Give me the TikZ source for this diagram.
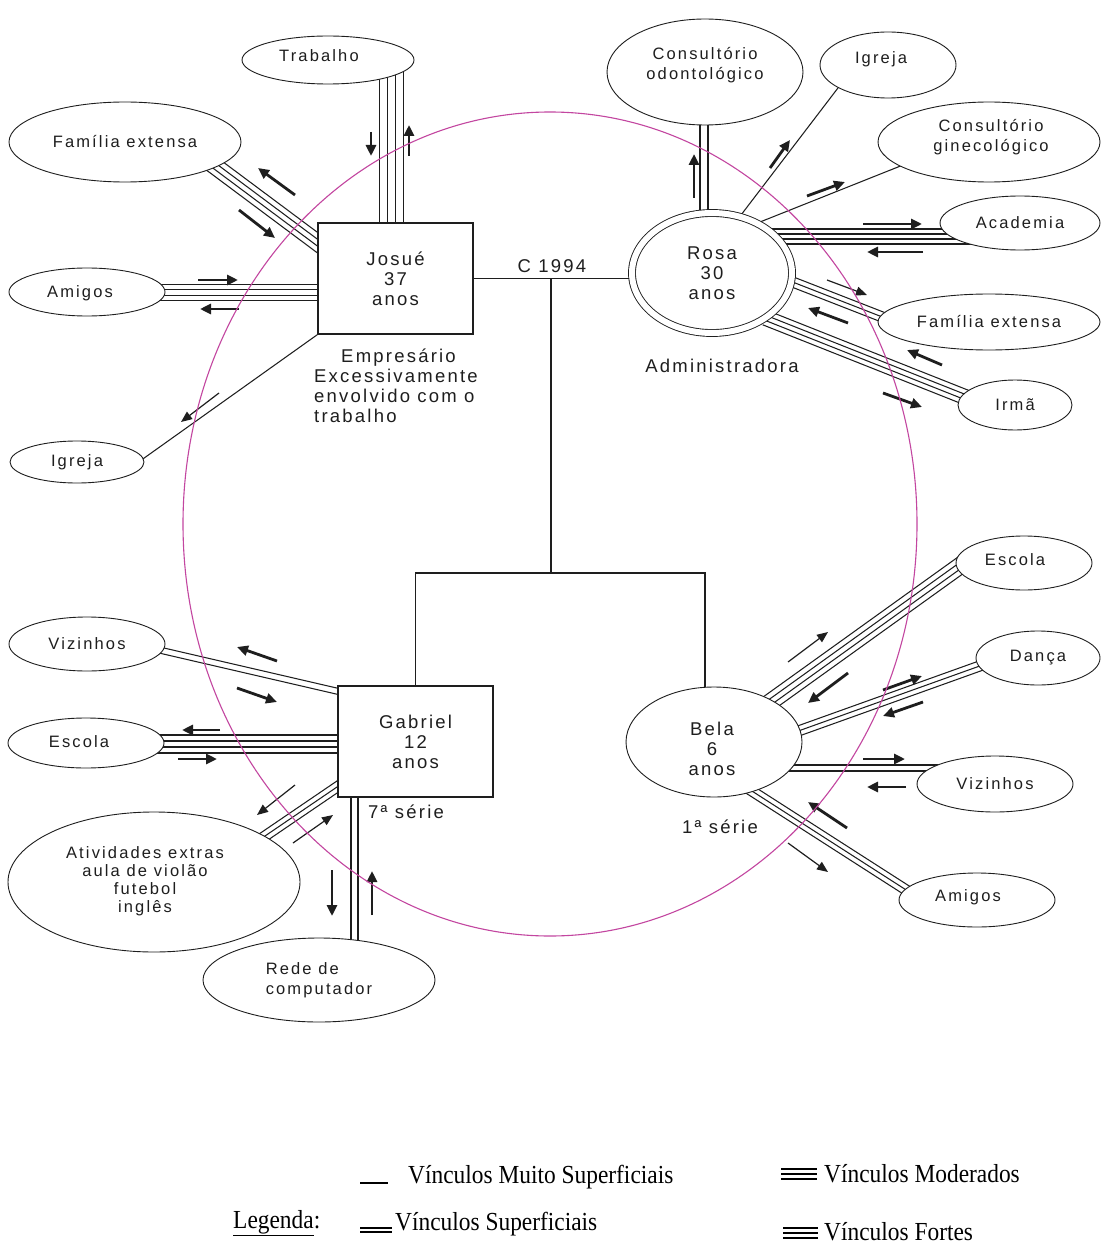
\documentclass[tikz,border=0pt]{standalone}
\usepackage{fontspec}
\setmainfont{Liberation Sans}
\newfontfamily\nmfont[LetterSpace=12]{Liberation Sans}
\newfontfamily\ovfont[LetterSpace=13]{Liberation Sans}
\newfontfamily\legfont[FakeStretch=0.9]{Liberation Serif}
\usetikzlibrary{shapes.geometric,arrows.meta,calc}
\pgfdeclarelayer{bg}
\pgfsetlayers{bg,main}
\definecolor{pinkline}{RGB}{195,70,160}
\definecolor{ink}{RGB}{30,30,30}
% n parallel lines, spacing, from coordinate, to coordinate
\newcommand\linebundle[4]{%
  \foreach \k in {1,...,#1}{%
    \pgfmathsetmacro\bdoff{(\k-(#1+1)/2)*#2}%
    \draw[one] ($(#3)!\bdoff pt!90:(#4)$) -- ($(#4)!\bdoff pt!-90:(#3)$);
  }}
\begin{document}
\begin{tikzpicture}[x=1pt,y=-1pt,
  namefont/.style={font=\nmfont\fontsize{18.5pt}{20pt}\selectfont, text=ink},
  ovalfont/.style={font=\ovfont\fontsize{16.5pt}{20pt}\selectfont, text=ink},
  personbox/.style={namefont, draw=ink, line width=1.3pt, fill=white, rectangle,
    minimum width=155pt, minimum height=111pt, inner sep=0pt, align=center},
  oval/.style={ovalfont, draw=ink, line width=0.9pt, fill=white, ellipse,
    inner sep=0pt, align=center},
  ovaltext/.style={ovalfont, inner sep=0pt, align=center},
  lbl/.style={namefont, inner sep=0pt},
  one/.style={draw=ink, line width=1.05pt},
  arr/.style={draw=ink, line width=2.8pt, -{Triangle[length=11pt,width=10pt]}},
  arrthin/.style={draw=ink, line width=1.2pt, -{Triangle[length=11pt,width=9pt]}},
  legstyle/.style={font=\legfont\fontsize{26pt}{28pt}\selectfont, text=black, inner sep=0pt, anchor=base west},
  legline/.style={draw=black, line width=1.2pt}
]
\useasboundingbox (0,0) rectangle (1101,1249);
\begin{pgfonlayer}{bg}
  \fill[white] (0,0) rectangle (1101,1249);
\end{pgfonlayer}

% ---------- persons ----------
\node[personbox] (josue) at (395.5,278.5) {Josué\\37\\anos};
\node[personbox] (gabriel) at (415.5,741.5) {Gabriel\\12\\anos};
\node[oval, namefont, double=white, double distance=6pt, minimum width=160pt, minimum height=120pt] (rosa) at (712,273) {Rosa\\30\\anos};
\node[oval, minimum width=176pt, minimum height=110pt] (bela) at (714,742) {};
\node[lbl, align=center] (belaT) at (712,749) {Bela\\6\\anos};

% ---------- contexts ----------
\node[oval, minimum width=172pt, minimum height=48pt] (trab) at (328,60) {};
\node[ovaltext] (trabT) at (319,56) {Trabalho};
\node[oval, minimum width=232pt, minimum height=80pt] (famL) at (125,142) {Família extensa};
\node[oval, minimum width=156pt, minimum height=48pt] (amigL) at (87,292) {};
\node[ovaltext] (amigLT) at (80,293) {Amigos};
\node[oval, minimum width=134pt, minimum height=42pt] (igrL) at (77,462) {Igreja};
\node[oval, minimum width=196pt, minimum height=106pt] (odonto) at (705,72) {};
\node[ovaltext] (odontoT) at (705,65) {Consultório\\odontológico};
\node[oval, minimum width=136pt, minimum height=66pt] (igrR) at (888,65) {};
\node[ovaltext] (igrRT) at (881,59) {Igreja};
\node[oval, minimum width=222pt, minimum height=80pt] (gine) at (989,142) {};
\node[ovaltext] (gineT) at (991,137) {Consultório\\ginecológico};
\node[oval, minimum width=160pt, minimum height=54pt] (acad) at (1020,223) {Academia};
\node[oval, minimum width=222pt, minimum height=56pt] (famR) at (989,322) {Família extensa};
\node[oval, minimum width=114pt, minimum height=50pt] (irma) at (1015,405) {Irmã};
\node[oval, minimum width=136pt, minimum height=54pt] (escR) at (1024,563) {};
\node[ovaltext] (escRT) at (1015,560) {Escola};
\node[oval, minimum width=124pt, minimum height=54pt] (danca) at (1038,658) {Dança};
\node[oval, minimum width=156pt, minimum height=56pt] (vizR) at (995,784) {Vizinhos};
\node[oval, minimum width=156pt, minimum height=54pt] (amigR) at (977,900) {};
\node[ovaltext] (amigRT) at (968,897) {Amigos};
\node[oval, minimum width=156pt, minimum height=54pt] (vizL) at (87,644) {Vizinhos};
\node[oval, minimum width=156pt, minimum height=50pt] (escL) at (86,743) {};
\node[ovaltext] (escLT) at (79,742) {Escola};
\node[oval, minimum width=292pt, minimum height=140pt] (ativ) at (154,882) {};
\node[ovaltext, font=\ovfont\fontsize{16.5pt}{18pt}\selectfont] (ativT) at (145,881) {Atividades extras\\aula de violão\\futebol\\inglês};
\node[oval, align=left, minimum width=232pt, minimum height=84pt] (rede) at (319,980) {Rede de\\computador};

% ---------- labels ----------
\node[lbl] (casam) at (552,266) {C 1994};
\node[lbl, anchor=north west, align=left] (empr) at (314,349) {\hspace*{27pt}Empresário\\Excessivamente\\envolvido com o\\trabalho};
\node[lbl] (admin) at (722,366) {Administradora};
\node[lbl, anchor=west] (serieG) at (368,812) {7ª série};
\node[lbl] (serieB) at (720,827) {1ª série};

% ---------- bundle end points (inside the nodes, hidden by their fill) ----------
\coordinate (tj1) at ($(trab)+(63.5,4)$);        \coordinate (tj2) at ($(josue)+(-4,-48.5)$);
\coordinate (fj1) at ($(famL)+(83,19)$);         \coordinate (fj2) at ($(josue)+(-65.5,-26.5)$);
\coordinate (aj1) at ($(amigL)+(68,0.5)$);       \coordinate (aj2) at ($(josue)+(-70,14)$);
\coordinate (or1) at ($(odonto)+(-1,46)$);       \coordinate (or2) at ($(rosa)+(-8,-53)$);
\coordinate (ra1) at ($(rosa)+(58,-36.5)$);      \coordinate (ra2) at ($(acad)+(-45,13.5)$);
\coordinate (rf1) at ($(rosa)+(78,8)$);          \coordinate (rf2) at ($(famR)+(-100,-2.4)$);
\coordinate (ri1) at ($(rosa)+(53.4,44.8)$);     \coordinate (ri2) at ($(irma)+(-45.7,-6.3)$);
\coordinate (be1) at ($(bela)+(52.5,-37.3)$);    \coordinate (be2) at ($(escR)+(-56,-3)$);
\coordinate (bd1) at ($(bela)+(77.6,-8.6)$);     \coordinate (bd2) at ($(danca)+(-51.6,5.6)$);
\coordinate (bv1) at ($(bela)+(71,26)$);         \coordinate (bv2) at ($(vizR)+(-50,-16)$);
\coordinate (ba1) at ($(bela)+(34.3,46.7)$);     \coordinate (ba2) at ($(amigR)+(-68.6,-8.6)$);
\coordinate (gv1) at ($(vizL)+(68,5)$);          \coordinate (gv2) at ($(gabriel)+(-70.5,-48.5)$);
\coordinate (ge1) at ($(escL)+(64,1)$);          \coordinate (ge2) at ($(gabriel)+(-70.5,2.5)$);
\coordinate (ga1) at ($(ativ)+(105.7,-42.4)$);   \coordinate (ga2) at ($(gabriel)+(-71.9,41)$);
\coordinate (gr1) at ($(gabriel)+(-61,48.5)$);   \coordinate (gr2) at ($(rede)+(35.5,-30)$);
\coordinate (mar) at (551,278.5);
\coordinate (kids) at (551,573);
\coordinate (kb) at (705,573);

\begin{pgfonlayer}{bg}
  \draw[one] (josue.east) -- (josue.east -| rosa.center);
  \draw[one] (mar) -- (kids);
  \draw[one] (gabriel.north) |- (kb) -- (kb |- bela.center);
  % Josue
  \linebundle{4}{7.7}{tj1}{tj2}
  \linebundle{4}{5.5}{fj1}{fj2}
  \linebundle{4}{5.5}{aj1}{aj2}
  \draw[one] (josue.south west) -- ($(igrL)+(63,-1)$);
  % Rosa
  \linebundle{2}{8}{or1}{or2}
  \draw[one] ($(rosa)+(29,-58)$) -- ($(igrR)+(-47,19)$);
  \draw[one] ($(rosa)+(48,-51)$) -- ($(gine)+(-86,23)$);
  \linebundle{4}{5}{ra1}{ra2}
  \linebundle{3}{5}{rf1}{rf2}
  \linebundle{4}{5}{ri1}{ri2}
  % Bela
  \linebundle{4}{5.5}{be1}{be2}
  \linebundle{3}{5}{bd1}{bd2}
  \linebundle{2}{6}{bv1}{bv2}
  \linebundle{3}{5}{ba1}{ba2}
  % Gabriel
  \linebundle{2}{6}{gv1}{gv2}
  \linebundle{4}{6}{ge1}{ge2}
  \linebundle{3}{5}{ga1}{ga2}
  \linebundle{2}{7}{gr1}{gr2}
\end{pgfonlayer}

% ---------- direction arrows ----------
% Josue
\draw[arr] (371,132) -- (371,156);
\draw[arr] (409,156) -- (409,125);
\draw[arr] (295,195) -- (258,168);
\draw[arr] (239,210) -- (275,238);
\draw[arr] (198,280) -- (238,280);
\draw[arr] (239,309) -- (200,309);
\draw[arrthin] (219,393) -- (181,422);
% Rosa
\draw[arr] (694,198) -- (694,154);
\draw[arr] (770,168) -- (790,140);
\draw[arr] (807,196) -- (845,182);
\draw[arr] (863,224) -- (922,224);
\draw[arr] (923,252) -- (867,252);
\draw[arrthin] (827,280) -- (867,295);
\draw[arr] (848,323) -- (808,308);
\draw[arr] (942,365) -- (907,350);
\draw[arr] (883,393) -- (922,407);
% Bela
\draw[arrthin] (788,662) -- (828,632);
\draw[arr] (848,673) -- (808,703);
\draw[arr] (883,690) -- (922,676);
\draw[arr] (923,702) -- (883,716);
\draw[arr] (863,759) -- (905,759);
\draw[arr] (906,787) -- (867,787);
\draw[arr] (847,828) -- (808,802);
\draw[arrthin] (788,843) -- (828,872);
% Gabriel
\draw[arr] (277,661) -- (237,647);
\draw[arr] (237,688) -- (277,702);
\draw[arr] (220,730) -- (182,730);
\draw[arr] (178,759) -- (217,759);
\draw[arrthin] (295,785) -- (257,815);
\draw[arrthin] (293,843) -- (333,815);
\draw[arr] (332,870) -- (332,916);
\draw[arr] (372,915) -- (372,871);

% ---------- pink boundary ----------
\draw[pinkline, line width=1.1pt] (550,524) ellipse [x radius=367pt, y radius=412pt];

% ---------- legend ----------
\node[legstyle] (legtitle) at (233,1228) {\underline{Legenda}:};
\draw[legline] (360,1183) -- (388,1183);
\node[legstyle] (leg1) at (408,1183) {Vínculos Muito Superficiais};
\draw[legline] (360,1228) -- (392,1228);
\draw[legline] (360,1232) -- (392,1232);
\node[legstyle] (leg2) at (395,1230) {Vínculos Superficiais};
\draw[legline] (781,1169) -- (817,1169);
\draw[legline] (781,1174) -- (817,1174);
\draw[legline] (781,1179) -- (817,1179);
\node[legstyle] (leg3) at (824,1182) {Vínculos Moderados};
\draw[legline] (783,1228) -- (818,1228);
\draw[legline] (783,1233) -- (818,1233);
\draw[legline] (783,1238) -- (818,1238);
\node[legstyle] (leg4) at (824,1240) {Vínculos Fortes};
\end{tikzpicture}
\end{document}
